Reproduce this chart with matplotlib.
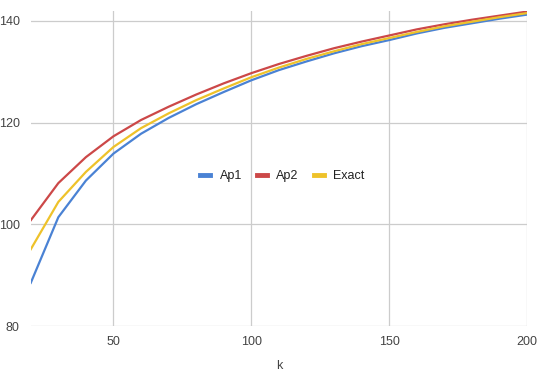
import matplotlib
matplotlib.use("Agg")
import matplotlib.pyplot as plt

plt.rcParams['font.family'] = ['Liberation Sans', 'DejaVu Sans']

k = [20, 30, 40, 50, 60, 70, 80, 90, 100, 110, 120, 130, 140, 150, 160, 170, 180, 190, 200]
ap1 = [88.5, 101.4, 108.6, 113.9, 117.8, 120.9, 123.6, 126.0, 128.3, 130.3,
       132.0, 133.6, 135.0, 136.2, 137.5, 138.6, 139.5, 140.4, 141.2]
ap2 = [100.8, 108.1, 113.2, 117.3, 120.5, 123.1, 125.5, 127.7, 129.7, 131.5,
       133.1, 134.6, 135.9, 137.1, 138.3, 139.3, 140.2, 141.0, 141.8]
exact = [95.1, 104.4, 110.3, 115.2, 118.9, 121.8, 124.4, 126.7, 128.9, 130.8,
         132.5, 134.0, 135.4, 136.6, 137.8, 138.9, 139.8, 140.7, 141.5]

x_ticks = [50, 100, 150, 200]
y_ticks = [80, 100, 120, 140]

fig = plt.figure(figsize=(5.4, 3.77), dpi=100)
ax = fig.add_axes([0.057, 0.135, 0.919, 0.837])

ax.plot(k, ap1, color='#4a82d4', lw=1.6, label='Ap1', zorder=3)
ax.plot(k, ap2, color='#cc4848', lw=1.6, label='Ap2', zorder=3)
ax.plot(k, exact, color='#eec22a', lw=1.6, label='Exact', zorder=3)

ax.set_xlim(20, 200)
ax.set_ylim(80, 142)
ax.set_xticks(x_ticks)
ax.set_yticks(y_ticks)
ax.grid(True, color='#cccccc', lw=0.9)
ax.set_axisbelow(True)
for s in ax.spines.values():
    s.set_visible(False)
ax.tick_params(length=0, labelsize=9, colors='#444444', pad=7)
ax.tick_params(axis='y', pad=8)
ax.set_xlabel('k', fontsize=9, color='#444444', labelpad=9)

leg = ax.legend(loc='center', bbox_to_anchor=(0.507, 0.476), ncol=3, frameon=False,
                fontsize=9, handlelength=0.8, handletextpad=0.75, columnspacing=1.2)
for h in leg.get_lines():
    h.set_linewidth(3.5)
for t in leg.get_texts():
    t.set_color('#222222')

fig.savefig('out.png', dpi=100)
